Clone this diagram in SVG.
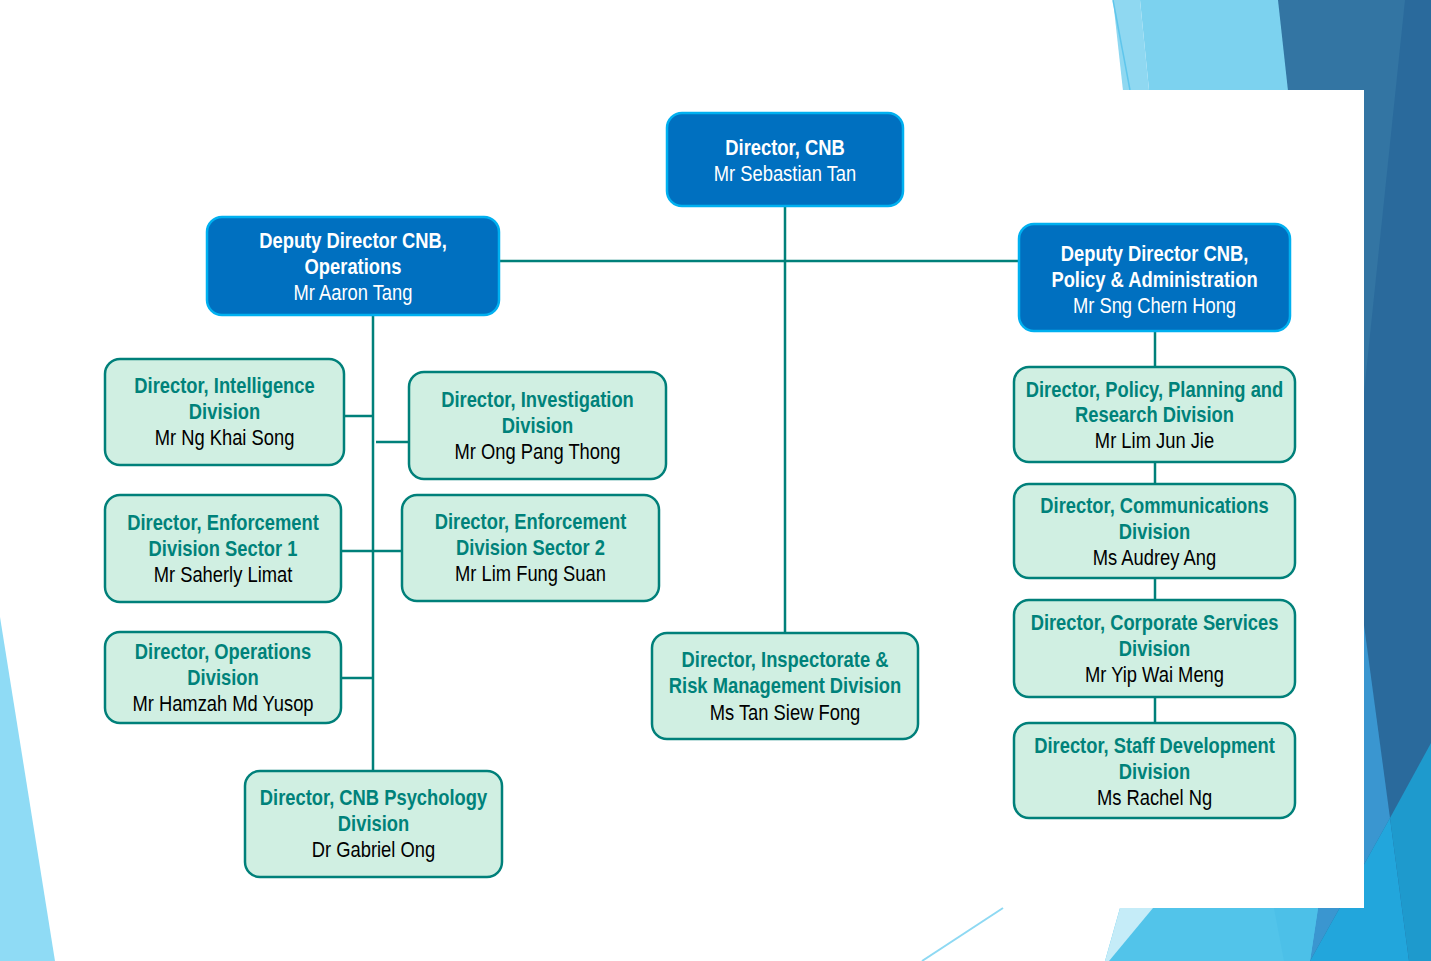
<svg xmlns="http://www.w3.org/2000/svg" width="1431" height="961" viewBox="0 0 1431 961">
<style>
.t{font-family:"Liberation Sans",Arial,sans-serif;font-size:22px;text-anchor:middle}
.b{font-weight:bold}
.w{fill:#FFFFFF}
.tl{fill:#00827A}
.k{fill:#000000}
.blue{fill:#0070C0;stroke:#00B0F0;stroke-width:2.5}
.green{fill:#D0EFE2;stroke:#00807A;stroke-width:2.5}
.con line{stroke:#00807A;stroke-width:2.5;fill:none}
</style>
<rect x="0" y="0" width="1431" height="961" fill="#FFFFFF"/>
<g id="background">
<rect x="1260" y="0" width="171" height="961" fill="#2A6A9C"/>
<polygon points="1278,0 1405,0 1358,450 1300,450" fill="#3375A3"/>
<polygon points="1140,0 1278,0 1300,200 1160,200" fill="#7CD2EF"/>
<polygon points="1113,0 1140,0 1160,200 1135,200" fill="#8FD8F1"/>
<line x1="1113" y1="0" x2="1130" y2="90" stroke="#5FC6EC" stroke-width="1.5"/>
<polygon points="1364,625 1390,818 1310,961 1290,961" fill="#3A96D0"/>
<polygon points="1390,818 1409,961 1310,961" fill="#22A6DC"/>
<polygon points="1390,818 1431,743 1431,961 1409,961" fill="#1E9ACD"/>
<polygon points="1120,908 1318,908 1310,961 1105,961" fill="#52C4EA"/>
<polygon points="1274,908 1318,908 1310,961 1284,961" fill="#4CC0E8"/>
<polygon points="1120,908 1153,908 1109,961 1105,961" fill="#C5ECF8"/>
<rect x="60" y="90" width="1304" height="818" fill="#FFFFFF"/>
<polygon points="0,617 55,961 0,961" fill="#8FDBF5"/>
<line x1="922" y1="961" x2="1003" y2="908" stroke="#8ED9F3" stroke-width="2"/>
</g>
<g id="connectors" class="con">
<line x1="785" y1="206" x2="785" y2="633"/>
<line x1="499" y1="261" x2="1019" y2="261"/>
<line x1="373" y1="315" x2="373" y2="771"/>
<line x1="344" y1="416" x2="373" y2="416"/>
<line x1="376" y1="442" x2="409" y2="442"/>
<line x1="341" y1="551" x2="402" y2="551"/>
<line x1="341" y1="678" x2="373" y2="678"/>
<line x1="1155" y1="331" x2="1155" y2="367"/>
<line x1="1155" y1="462" x2="1155" y2="484"/>
<line x1="1155" y1="578" x2="1155" y2="600"/>
<line x1="1155" y1="697" x2="1155" y2="723"/>
</g>
<g id="n-director">
<rect class="blue" x="667" y="113" width="236" height="93" rx="15"/>
<text class="t b w" transform="translate(785 0) scale(0.834 1)" y="155">Director, CNB</text>
<text class="t w" transform="translate(785 0) scale(0.834 1)" y="181">Mr Sebastian Tan</text>
</g>
<g id="n-dd-ops">
<rect class="blue" x="207" y="217" width="292" height="98" rx="15"/>
<text class="t b w" transform="translate(353 0) scale(0.834 1)" y="248">Deputy Director CNB,</text>
<text class="t b w" transform="translate(353 0) scale(0.834 1)" y="274">Operations</text>
<text class="t w" transform="translate(353 0) scale(0.834 1)" y="300">Mr Aaron Tang</text>
</g>
<g id="n-dd-pa">
<rect class="blue" x="1019" y="224" width="271" height="107" rx="15"/>
<text class="t b w" transform="translate(1154.5 0) scale(0.834 1)" y="261">Deputy Director CNB,</text>
<text class="t b w" transform="translate(1154.5 0) scale(0.834 1)" y="287">Policy &amp; Administration</text>
<text class="t w" transform="translate(1154.5 0) scale(0.834 1)" y="313">Mr Sng Chern Hong</text>
</g>
<g id="n-intelligence">
<rect class="green" x="105" y="359" width="239" height="106" rx="15"/>
<text class="t b tl" transform="translate(224.5 0) scale(0.834 1)" y="393">Director, Intelligence</text>
<text class="t b tl" transform="translate(224.5 0) scale(0.834 1)" y="419">Division</text>
<text class="t k" transform="translate(224.5 0) scale(0.834 1)" y="445">Mr Ng Khai Song</text>
</g>
<g id="n-investigation">
<rect class="green" x="409" y="372" width="257" height="107" rx="15"/>
<text class="t b tl" transform="translate(537.5 0) scale(0.834 1)" y="407">Director, Investigation</text>
<text class="t b tl" transform="translate(537.5 0) scale(0.834 1)" y="433">Division</text>
<text class="t k" transform="translate(537.5 0) scale(0.834 1)" y="459">Mr Ong Pang Thong</text>
</g>
<g id="n-enf1">
<rect class="green" x="105" y="495" width="236" height="107" rx="15"/>
<text class="t b tl" transform="translate(223 0) scale(0.834 1)" y="530">Director, Enforcement</text>
<text class="t b tl" transform="translate(223 0) scale(0.834 1)" y="556">Division Sector 1</text>
<text class="t k" transform="translate(223 0) scale(0.834 1)" y="582">Mr Saherly Limat</text>
</g>
<g id="n-enf2">
<rect class="green" x="402" y="495" width="257" height="106" rx="15"/>
<text class="t b tl" transform="translate(530.5 0) scale(0.834 1)" y="529">Director, Enforcement</text>
<text class="t b tl" transform="translate(530.5 0) scale(0.834 1)" y="555">Division Sector 2</text>
<text class="t k" transform="translate(530.5 0) scale(0.834 1)" y="581">Mr Lim Fung Suan</text>
</g>
<g id="n-ops">
<rect class="green" x="105" y="632" width="236" height="91" rx="15"/>
<text class="t b tl" transform="translate(223 0) scale(0.834 1)" y="659">Director, Operations</text>
<text class="t b tl" transform="translate(223 0) scale(0.834 1)" y="685">Division</text>
<text class="t k" transform="translate(223 0) scale(0.834 1)" y="711">Mr Hamzah Md Yusop</text>
</g>
<g id="n-psych">
<rect class="green" x="245" y="771" width="257" height="106" rx="15"/>
<text class="t b tl" transform="translate(373.5 0) scale(0.834 1)" y="805">Director, CNB Psychology</text>
<text class="t b tl" transform="translate(373.5 0) scale(0.834 1)" y="831">Division</text>
<text class="t k" transform="translate(373.5 0) scale(0.834 1)" y="857">Dr Gabriel Ong</text>
</g>
<g id="n-inspectorate">
<rect class="green" x="652" y="633" width="266" height="106" rx="15"/>
<text class="t b tl" transform="translate(785 0) scale(0.834 1)" y="667">Director, Inspectorate &amp;</text>
<text class="t b tl" transform="translate(785 0) scale(0.834 1)" y="693">Risk Management Division</text>
<text class="t k" transform="translate(785 0) scale(0.834 1)" y="720">Ms Tan Siew Fong</text>
</g>
<g id="n-policy">
<rect class="green" x="1014" y="367" width="281" height="95" rx="15"/>
<text class="t b tl" transform="translate(1154.5 0) scale(0.834 1)" y="397">Director, Policy, Planning and</text>
<text class="t b tl" transform="translate(1154.5 0) scale(0.834 1)" y="422">Research Division</text>
<text class="t k" transform="translate(1154.5 0) scale(0.834 1)" y="448">Mr Lim Jun Jie</text>
</g>
<g id="n-comms">
<rect class="green" x="1014" y="484" width="281" height="94" rx="15"/>
<text class="t b tl" transform="translate(1154.5 0) scale(0.834 1)" y="513">Director, Communications</text>
<text class="t b tl" transform="translate(1154.5 0) scale(0.834 1)" y="539">Division</text>
<text class="t k" transform="translate(1154.5 0) scale(0.834 1)" y="565">Ms Audrey Ang</text>
</g>
<g id="n-corporate">
<rect class="green" x="1014" y="600" width="281" height="97" rx="15"/>
<text class="t b tl" transform="translate(1154.5 0) scale(0.834 1)" y="630">Director, Corporate Services</text>
<text class="t b tl" transform="translate(1154.5 0) scale(0.834 1)" y="656">Division</text>
<text class="t k" transform="translate(1154.5 0) scale(0.834 1)" y="682">Mr Yip Wai Meng</text>
</g>
<g id="n-staff">
<rect class="green" x="1014" y="723" width="281" height="95" rx="15"/>
<text class="t b tl" transform="translate(1154.5 0) scale(0.834 1)" y="753">Director, Staff Development</text>
<text class="t b tl" transform="translate(1154.5 0) scale(0.834 1)" y="779">Division</text>
<text class="t k" transform="translate(1154.5 0) scale(0.834 1)" y="805">Ms Rachel Ng</text>
</g>
</svg>
